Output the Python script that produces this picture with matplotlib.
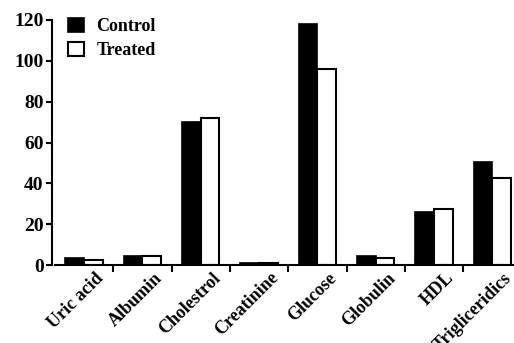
import numpy as np
import matplotlib
matplotlib.use("Agg")
import matplotlib.pyplot as plt
import matplotlib.transforms as mtransforms
from matplotlib.patches import Patch

categories = ["Uric acid", "Albumin", "Cholestrol", "Creatinine", "Glucose",
              "Globulin", "HDL", "Trigliceridics"]
control = [3.3, 4.4, 70.2, 1.2, 118.0, 4.4, 25.9, 50.5]
treated = [2.4, 4.2, 72.2, 1.0, 96.0, 3.5, 27.4, 42.7]
y_ticks = [0, 20, 40, 60, 80, 100, 120]

plt.rcParams['font.family'] = ['Liberation Serif', 'DejaVu Serif']
plt.rcParams['font.weight'] = 'bold'

fig = plt.figure(figsize=(5.14, 3.43), dpi=100)
ax = fig.add_axes([55 / 514, 78 / 343, 466.4 / 514, 245 / 343])

x = np.arange(len(categories))
w = 0.32
ax.bar(x - w / 2, control, w, color='black', edgecolor='black', linewidth=1.2)
ax.bar(x + w / 2, treated, w, color='white', edgecolor='black', linewidth=1.5)

ax.set_xlim(-0.5, len(categories) - 0.5)
ax.set_ylim(0, 120)
ax.set_yticks(y_ticks)
ax.tick_params(axis='y', labelsize=14, width=1.5, length=4, pad=2)

# labels at group centres, tick marks between groups
ax.set_xticks(x)
ax.set_xticklabels(categories, rotation=45, ha='right', va='center',
                   rotation_mode='anchor', fontsize=13)
ax.tick_params(axis='x', which='major', length=0, pad=7.5)
ax.set_xticks(np.arange(len(categories) - 1) + 0.5, minor=True)
ax.tick_params(axis='x', which='minor', length=5, width=1.5)
offset = mtransforms.ScaledTranslation(17 / 100, 0, fig.dpi_scale_trans)
for lab in ax.get_xticklabels():
    lab.set_transform(lab.get_transform() + offset)

for s in ['top', 'right']:
    ax.spines[s].set_visible(False)
ax.spines['left'].set_linewidth(1.5)
ax.spines['bottom'].set_linewidth(1.5)
ax.spines['left'].set_position(('outward', 2.2))

handles = [Patch(facecolor='black', edgecolor='black', linewidth=1.2),
           Patch(facecolor='white', edgecolor='black', linewidth=1.5)]
ax.legend(handles, ["Control", "Treated"], loc='upper left',
          bbox_to_anchor=(-0.008, 1.075), frameon=False, fontsize=13,
          handlelength=0.9, handleheight=0.8, handletextpad=0.7,
          labelspacing=0.4)

fig.savefig("out.png", dpi=100)
